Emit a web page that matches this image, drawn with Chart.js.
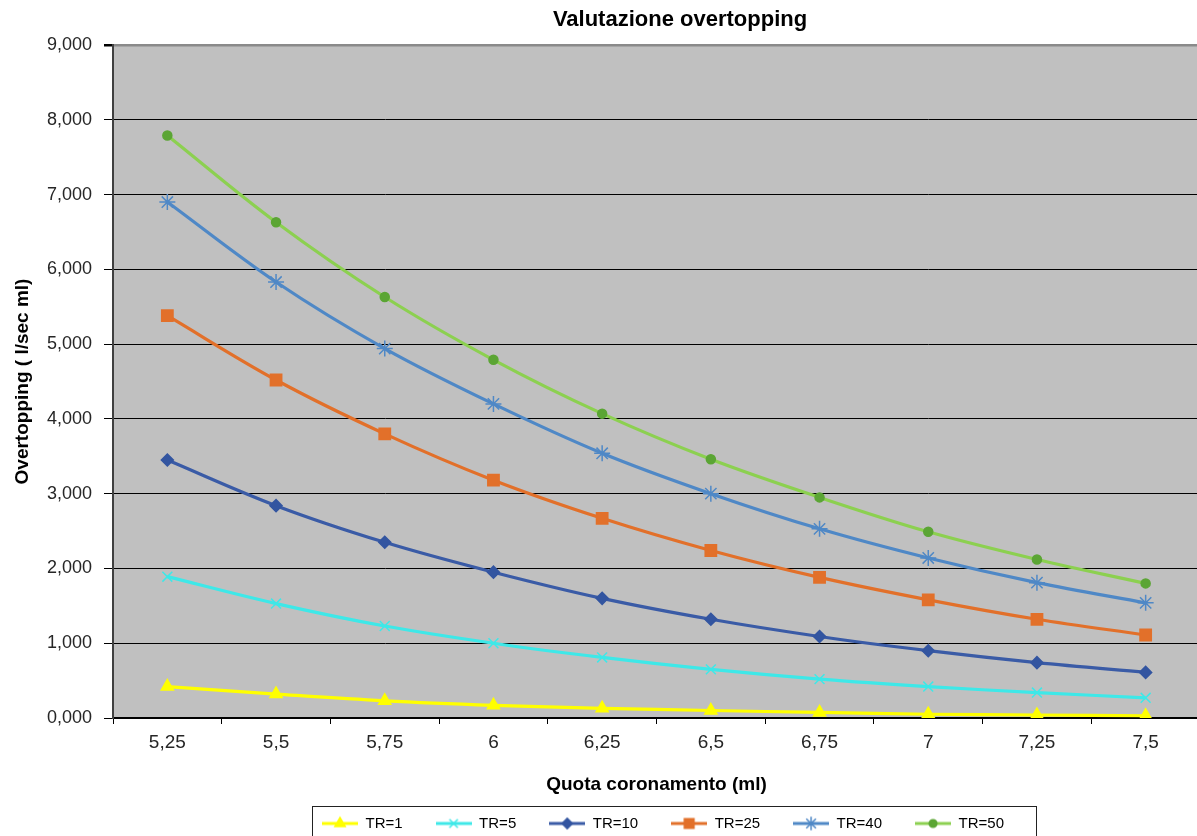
<!DOCTYPE html>
<html>
<head>
<meta charset="utf-8">
<script src="https://cdn.jsdelivr.net/npm/chart.js@4.4.1/dist/chart.umd.min.js"></script>
<style>
  html, body { margin: 0; padding: 0; background: #ffffff; overflow: hidden; }
  canvas { display: block; }
</style>
</head>
<body>
<canvas id="c" width="1200" height="836"></canvas>
<script>
// ---------- data ----------
const categories = ['5,25', '5,5', '5,75', '6', '6,25', '6,5', '6,75', '7', '7,25', '7,5'];
const seriesNames = ['TR=1', 'TR=5', 'TR=10', 'TR=25', 'TR=40', 'TR=50'];
const tr1  = [0.42, 0.32, 0.23, 0.17, 0.13, 0.10, 0.075, 0.05, 0.04, 0.03];
const tr5  = [1.89, 1.53, 1.23, 1.00, 0.81, 0.65, 0.52, 0.42, 0.34, 0.27];
const tr10 = [3.45, 2.84, 2.35, 1.95, 1.60, 1.32, 1.09, 0.90, 0.74, 0.61];
const tr25 = [5.38, 4.52, 3.80, 3.18, 2.67, 2.24, 1.88, 1.58, 1.32, 1.11];
const tr40 = [6.90, 5.83, 4.94, 4.20, 3.54, 3.00, 2.53, 2.14, 1.81, 1.54];
const tr50 = [7.79, 6.63, 5.63, 4.79, 4.07, 3.46, 2.95, 2.49, 2.12, 1.80];
const yTickLabels = ['0,000', '1,000', '2,000', '3,000', '4,000', '5,000', '6,000', '7,000', '8,000', '9,000'];

// ---------- styles ----------
const seriesValues = [tr1, tr5, tr10, tr25, tr40, tr50];
const lineColors   = ['#FFFF00', '#3EE8E8', '#3A5BA6', '#E2702A', '#4F88C6', '#8CD050'];
const markerColors = ['#FFFF00', '#3EE8E8', '#3355A0', '#E2702A', '#4F88C6', '#5BA534'];
const markerStyles = ['triangle', 'crossRot', 'rectRot', 'rect', 'star', 'circle'];
const markerRadii  = [7, 7, 6, 8, 8, 4.5];

Chart.defaults.font.family = "'Liberation Sans', Arial, sans-serif";
Chart.defaults.color = '#262626';

function makeIcon(i) {
  const cv = document.createElement('canvas');
  cv.width = 36; cv.height = 18;
  const c = cv.getContext('2d');
  c.strokeStyle = lineColors[i];
  c.lineWidth = 3;
  c.beginPath(); c.moveTo(0, 9); c.lineTo(36, 9); c.stroke();
  c.fillStyle = markerColors[i];
  c.strokeStyle = markerColors[i];
  c.lineWidth = 1.5;
  if (Chart.helpers && Chart.helpers.drawPoint) {
    Chart.helpers.drawPoint(c, {pointStyle: markerStyles[i], radius: markerRadii[i] * 0.85, borderWidth: 1.5, rotation: 0}, 18, 9);
  } else {
    c.beginPath(); c.arc(18, 9, 4, 0, Math.PI * 2); c.fill();
  }
  return cv;
}
const icons = seriesNames.map((n, i) => makeIcon(i));

const datasets = seriesNames.map((name, i) => ({
  label: name,
  data: seriesValues[i],
  borderColor: lineColors[i],
  backgroundColor: markerColors[i],
  borderWidth: 3.2,
  tension: 0.35,
  pointStyle: markerStyles[i],
  pointRadius: markerRadii[i],
  pointHoverRadius: markerRadii[i],
  pointBackgroundColor: markerColors[i],
  pointBorderColor: markerColors[i],
  pointBorderWidth: 1.5,
  fill: false
}));

const bgPlugin = {
  id: 'plotBg',
  beforeDraw(chart) {
    const {ctx, chartArea: a} = chart;
    ctx.save();
    ctx.fillStyle = '#c0c0c0';
    ctx.fillRect(a.left, a.top, a.right - a.left, a.bottom - a.top);
    ctx.restore();
  }
};

const shiftPlugin = {
  id: 'shiftBlocks',
  afterLayout(chart) {
    if (chart.titleBlock) chart.titleBlock.left += 160;
    if (chart.legend) { chart.legend.left += 126; chart.legend.top += 5; }
  }
};

const legendBoxPlugin = {
  id: 'legendBox',
  afterDraw(chart) {
    const hb = chart.legend && chart.legend.legendHitBoxes;
    if (!hb || !hb.length) return;
    const first = hb[0], last = hb[hb.length - 1];
    const x0 = first.left - 10, x1 = last.left + last.width + 32;
    const y0 = first.top - 10;
    const ctx = chart.ctx;
    ctx.save();
    ctx.strokeStyle = '#222';
    ctx.lineWidth = 1;
    ctx.strokeRect(Math.round(x0) + 0.5, Math.round(y0) + 0.5, Math.round(x1 - x0), 60);
    ctx.restore();
  }
};

new Chart(document.getElementById('c'), {
  type: 'line',
  data: { labels: categories, datasets },
  plugins: [bgPlugin, shiftPlugin, legendBoxPlugin],
  options: {
    responsive: false,
    animation: false,
    devicePixelRatio: 1,
    layout: { padding: 0, autoPadding: false },
    plugins: {
      title: {
        display: true,
        text: 'Valutazione overtopping',
        color: '#000',
        font: { size: 22, weight: 'bold' },
        padding: { top: 7, bottom: 11.6 }
      },
      legend: {
        position: 'bottom',
        labels: {
          usePointStyle: true,
          pointStyleWidth: 36,
          boxHeight: 15,
          padding: 33,
          color: '#1a1a1a',
          font: { size: 15 },
          generateLabels(chart) {
            return chart.data.datasets.map((ds, i) => ({
              text: ds.label,
              pointStyle: icons[i],
              fillStyle: 'rgba(0,0,0,0)',
              strokeStyle: 'rgba(0,0,0,0)',
              lineWidth: 0,
              hidden: false,
              datasetIndex: i
            }));
          }
        }
      },
      tooltip: { enabled: false }
    },
    scales: {
      x: {
        type: 'category',
        offset: true,
        grid: { display: true, drawOnChartArea: false, offset: true, tickLength: 6, tickColor: '#000', lineWidth: 1 },
        border: { display: true, color: '#000', width: 2 },
        ticks: { font: { size: 19 }, color: '#262626', padding: 7, autoSkip: false, maxRotation: 0 },
        title: {
          display: true,
          text: 'Quota coronamento (ml)',
          color: '#000',
          font: { size: 19, weight: 'bold' },
          padding: { top: 0, bottom: -18 }
        },
        afterFit(s) { s.height = 60; s.paddingLeft = 0; s.paddingRight = 0; }
      },
      y: {
        min: 0,
        max: 9,
        ticks: {
          stepSize: 1,
          font: { size: 18 },
          color: '#262626',
          padding: 12,
          callback: (v) => yTickLabels[Math.round(v)]
        },
        grid: {
          color: (c) => (c.tick && c.tick.value === 9) ? '#8a8a8a' : '#000',
          lineWidth: (c) => (c.tick && c.tick.value === 9) ? 2.5 : 1,
          tickLength: 9,
          tickColor: '#000'
        },
        border: { color: '#404040', width: 2 },
        title: {
          display: true,
          text: 'Overtopping ( l/sec ml)',
          color: '#000',
          font: { size: 19, weight: 'bold' },
          padding: { top: 11, bottom: 0 }
        },
        afterFit(s) { s.width = 113; }
      }
    }
  }
});
</script>
</body>
</html>
